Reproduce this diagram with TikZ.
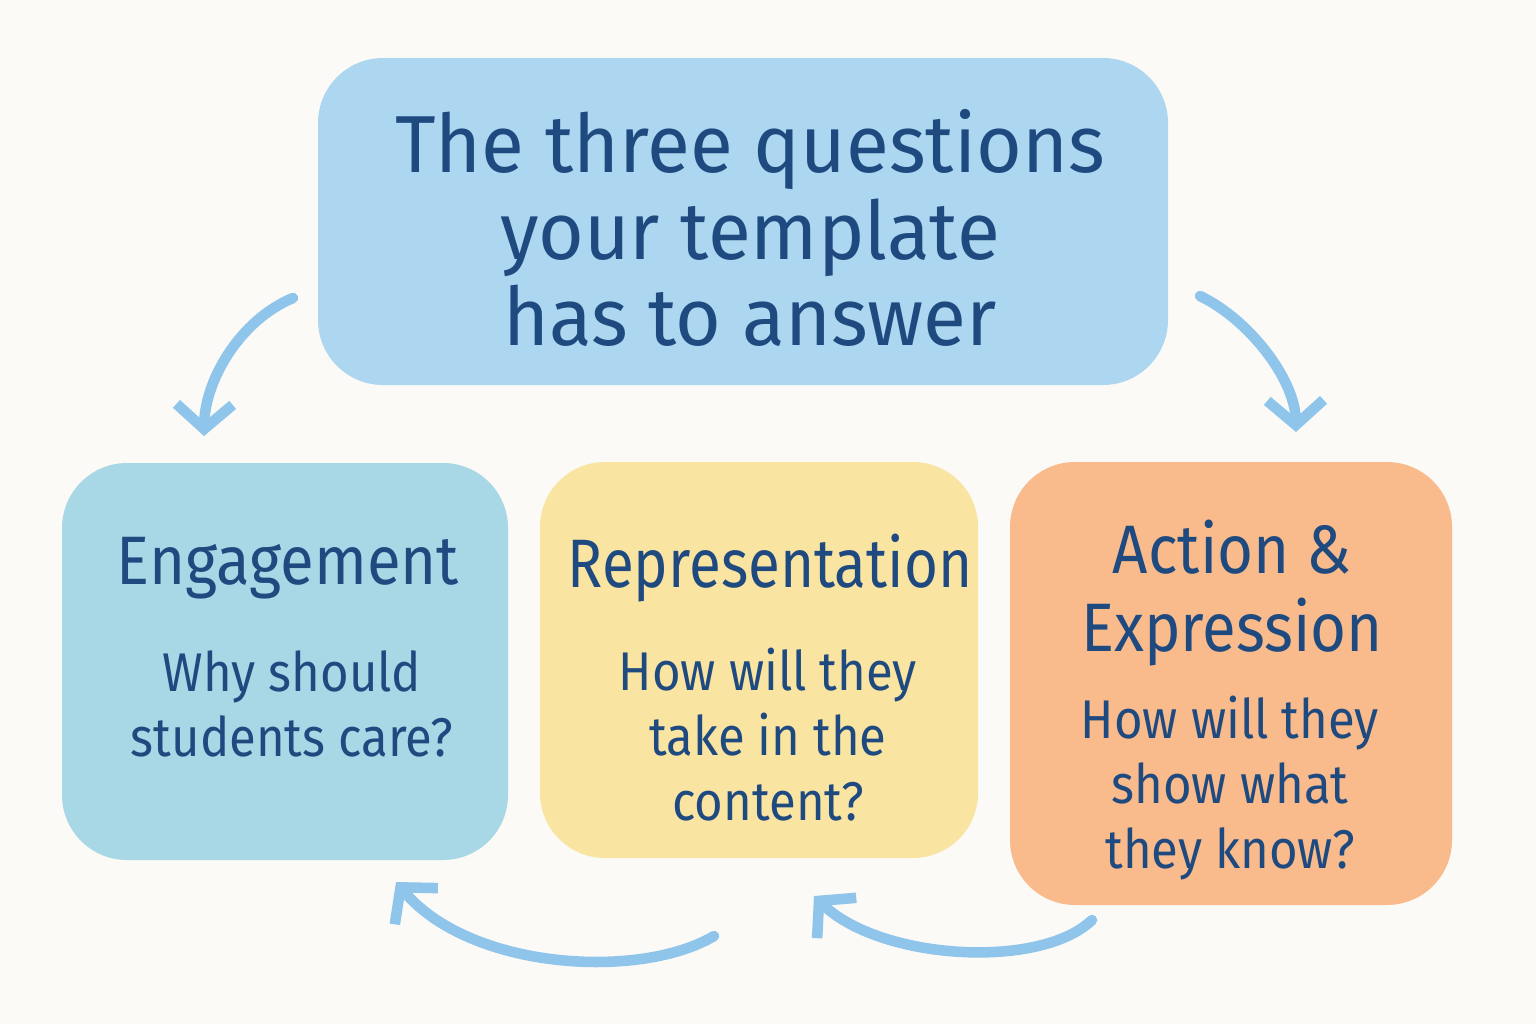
\documentclass[tikz,border=0pt]{standalone}
\usepackage{fontspec}
\setmainfont{Fira Sans}
\usetikzlibrary{arrows.meta}
\definecolor{bg}{HTML}{FBFAF7}
\definecolor{txt}{HTML}{1F4A80}
\definecolor{topc}{HTML}{ADD6F0}
\definecolor{engc}{HTML}{A8D7E6}
\definecolor{repc}{HTML}{FAE4A2}
\definecolor{actc}{HTML}{F9BB8C}
\definecolor{arr}{HTML}{8FC5EA}
\begin{document}
\begin{tikzpicture}[x=0.01cm,y=-0.01cm,
  box/.style={rounded corners=0.65cm,inner sep=0pt},
  arrw/.style={draw=arr,line width=3pt,line cap=round,-{Straight Barb[length=7pt,width=16pt,line width=3pt]}},
  t/.style={text=txt,align=center}]
\fill[bg] (0,0) rectangle (1536,1024);
\fill[topc,box] (318,58) rectangle (1168,385);
\fill[engc,box] (62,463) rectangle (508,860);
\fill[repc,box] (540,462) rectangle (978,858);
\fill[actc,box] (1010,462) rectangle (1452,905);
\node[t,font=\fontsize{23}{24.5}\selectfont\addfontfeature{FakeStretch=0.97}] (title) at (750,228) {The three questions\\your template\\has to answer};
\node[t,font=\fontsize{19.5}{21.5}\selectfont\addfontfeature{FakeStretch=0.9}] (eh) at (288,568) {Engagement};
\node[t,font=\fontsize{15.5}{18.5}\selectfont\addfontfeature{FakeStretch=0.9}] (eb) at (292,704) {Why should\\students care?};
\node[t,font=\fontsize{19.5}{21.5}\selectfont\addfontfeature{FakeStretch=0.85}] (rh) at (770,568) {Representation};
\node[t,font=\fontsize{15.5}{18.5}\selectfont\addfontfeature{FakeStretch=0.9}] (rb) at (768,735) {How will they\\take in the\\content?};
\node[t,font=\fontsize{19.5}{22}\selectfont\addfontfeature{FakeStretch=0.9}] (ah) at (1232,593) {Action \&\\Expression};
\node[t,font=\fontsize{15.5}{18.5}\selectfont\addfontfeature{FakeStretch=0.9}] (ab) at (1230,788) {How will they\\show what\\they know?};
\coordinate (a1s) at (293,298); \coordinate (a1e) at (204,436);
\coordinate (a2s) at (1200,296); \coordinate (a2e) at (1296,432);
\coordinate (a3s) at (714,936); \coordinate (a3e) at (396,882);
\coordinate (a4s) at (1092,920); \coordinate (a4e) at (814,896);
\draw[arrw] (a1s) .. controls (240,320) and (205,380) .. (a1e);
\draw[arrw] (a2s) .. controls (1250,320) and (1295,380) .. (a2e);
\draw[arrw] (a3s) .. controls (640,980) and (470,970) .. (a3e);
\draw[arrw] (a4s) .. controls (1040,970) and (880,960) .. (a4e);
\end{tikzpicture}
\end{document}
